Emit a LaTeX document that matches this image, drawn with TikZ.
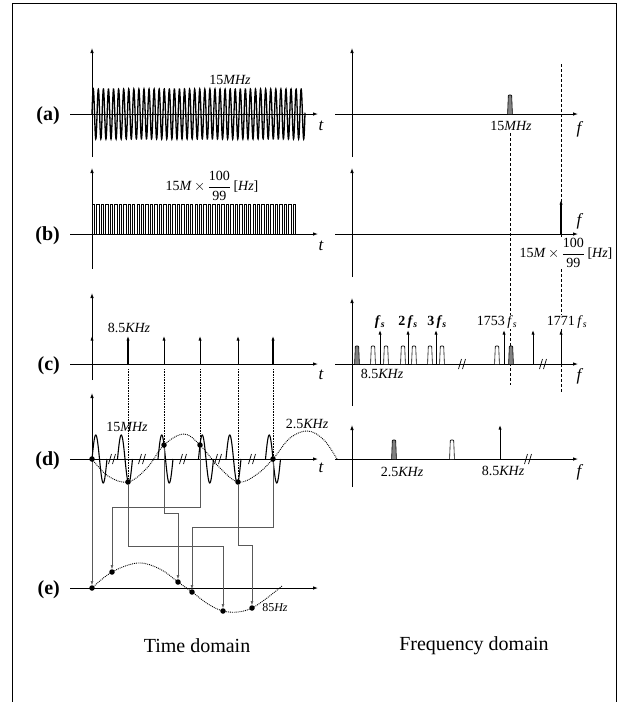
\documentclass[tikz,border=0pt]{standalone}
\usepackage{amsmath}
\usepackage{fontspec}
\setmainfont{Liberation Serif}
\usetikzlibrary{arrows.meta}
\newcommand\myratio{15\textit{M}\,$\times$\,$\dfrac{\text{100}}{\text{99}}$\,[\textit{Hz}]}
\newcommand\myfs{\textit{f}\textsubscript{\textit{s}}}
\newcommand\fpulse[4]{\draw[line width=0.6pt,fill=#4,rounded corners=0.8pt] (#1-2.4,#2) -- (#1-1.7,#2-#3) -- (#1+1.7,#2-#3) -- (#1+2.4,#2);}
\newcommand\mybrk[2]{\draw[line width=0.7pt] (#1-3.5,#2+5) -- (#1-0.5,#2-5) (#1+0.5,#2+5) -- (#1+3.5,#2-5);}
\begin{document}
\begin{tikzpicture}[x=1pt,y=-1pt,
  ax/.style={line width=0.9pt,-{Latex[length=5pt,width=3.6pt]}},
  imp/.style={line width=0.9pt,-{Latex[length=4.5pt,width=3.2pt]}},
  conn/.style={line width=0.6pt,draw=black!65,-{Latex[length=4pt,width=3pt]}},
  vline/.style={line width=0.6pt,densely dotted},
  dline/.style={line width=0.9pt,dash pattern=on 3pt off 2pt},
  env/.style={line width=0.9pt,densely dotted},
  wave/.style={line width=1.1pt},
  pnl/.style={font=\bfseries\fontsize{20}{22}\selectfont,inner sep=1pt},
  var/.style={font=\itshape\fontsize{17}{19}\selectfont,inner sep=1pt},
  unit/.style={font=\fontsize{14}{16}\selectfont,inner sep=1pt},
  fsl/.style={font=\fontsize{14}{16}\selectfont,inner sep=0.5pt},
  dom/.style={font=\fontsize{20}{22}\selectfont},
  sdot/.style={circle,fill=black,inner sep=0pt,minimum size=5.5pt},
]
\useasboundingbox (0,0) rectangle (626,702);
% frame
\draw[line width=0.8pt] (12.5,702) -- (12.5,3.5) -- (616.5,3.5) -- (616.5,702);

% dashed guide lines
\draw[dline] (510,133) -- (510,385);
\draw[dline] (561,64) -- (561,392);

% ---------------- (a)
\draw[ax] (70,114) -- (318,114);
\draw[ax] (92,157) -- (92,48);
\draw[line width=1.3pt] plot[domain=0:213,samples=1300] ({92+\x},{114-25*sin(\x*71)});
\node[pnl,anchor=east] (la) at (61,116) {(a)};
\node[var] (ta) at (321,126) {t};
\node[unit] (ua) at (230,80) {15\textit{MHz}};
\draw[ax] (335,114) -- (578,114);
\draw[ax] (352,157) -- (352,48);
\fpulse{510}{114}{19}{black!50}
\node[unit] (ua2) at (511,126) {15\textit{MHz}};
\node[var] (fa) at (579,129) {f};

% ---------------- (b)
\draw[ax] (70,234) -- (318,234);
\draw[ax] (92,269) -- (92,168);
\foreach \i in {0,...,45} \draw[line width=0.9pt] ({92.4+\i*4.46},234) rectangle ++(2.4,-30);
\node[pnl,anchor=east] (lb) at (61,236) {(b)};
\node[var] (tb) at (321,246) {t};
\node[unit] (ub) at (212,186) {\myratio};
\draw[ax] (335,234) -- (578,234);
\draw[ax] (352,277) -- (352,168);
\draw[imp,line width=1.3pt] (561,234) -- (561,200);
\node[var] (fb) at (579,221) {f};
\node[unit,fill=white] (ub2) at (566,253) {\myratio};

% ---------------- (c)
\draw[ax] (70,364) -- (318,364);
\draw[ax] (92,380) -- (92,293);
\coordinate (c0) at (92,364);
\coordinate (c1) at (128,364);
\coordinate (c2) at (164,364);
\coordinate (c3) at (200,364);
\coordinate (c4) at (238,364);
\coordinate (c5) at (273,364);
\draw[imp] (c0) -- ++(0,-28);
\draw[imp,line width=1.3pt] (c1) -- ++(0,-28);
\draw[imp] (c2) -- ++(0,-28);
\draw[imp] (c3) -- ++(0,-28);
\draw[imp] (c4) -- ++(0,-28);
\draw[imp,line width=1.3pt] (c5) -- ++(0,-28);
\node[unit] (uc) at (129,328) {8.5\textit{KHz}};
\node[pnl,anchor=east] (lc) at (61,366) {(c)};
\node[var] (tc) at (321,375) {t};
% right
\draw[ax] (335,364) -- (578,364);
\draw[ax] (352,406) -- (352,298);
\fpulse{357}{364}{18}{black!50}
\foreach \px in {373,386,403,414,430,442,497} {\fpulse{\px}{364}{18}{white}}
\fpulse{511}{364}{18}{black!50}
\foreach \px in {380,408,436,504,533,561} {\draw[imp] (\px,364) -- (\px,330);}
\mybrk{462}{364}
\mybrk{543}{364}
\node[fsl] (s1) at (380,322) {\textbf{\myfs}};
\node[fsl] (s2) at (408,322) {\textbf{2\,\myfs}};
\node[fsl] (s3) at (437,322) {\textbf{3\,\myfs}};
\node[fsl,fill=white] (s4) at (497,322) {1753\,\myfs};
\node[fsl,fill=white] (s5) at (567,322) {1771\,\myfs};
\node[unit] (uc2) at (382,374) {8.5\textit{KHz}};
\node[var] (fc) at (579,376) {f};

% ---------------- (d)
\draw[ax] (70,459) -- (318,459);
\draw[ax] (92,500) -- (92,393);
\foreach \s in {92,117.5,158,198.5,226,265.5}
  \draw[wave] plot[domain=0:15,samples=40] ({\s+\x},{459-24*sin(24*\x)});
\foreach \bx in {112,142,183,218,252} {\mybrk{\bx}{459}}
\draw[env] plot[smooth,tension=0.6] coordinates {(92,459) (108,476) (128,482) (147,468) (164,445) (184,434) (200,445) (219,467) (238,482) (256,475) (273,459) (290,438) (308,431) (324,440) (337,459)};
\node[sdot] (dd1) at (92,459) {};
\node[sdot] (dd2) at (128,482) {};
\node[sdot] (dd3) at (164,445) {};
\node[sdot] (dd4) at (200,445) {};
\node[sdot] (dd5) at (238,482) {};
\node[sdot] (dd6) at (273,459) {};
\foreach \c/\d in {c1/dd2,c2/dd3,c3/dd4,c4/dd5,c5/dd6} {\draw[vline] ([yshift=-5pt]\c) -- (\d);}
\node[unit] (ud) at (127,427) {15\textit{MHz}};
\node[unit] (ud2) at (307,424) {2.5\textit{KHz}};
\node[pnl,anchor=east] (ld) at (61,461) {(d)};
\node[var] (td) at (321,468) {t};
% right
\draw[ax] (335,459) -- (578,459);
\draw[ax] (352,487) -- (352,425);
\fpulse{394}{459}{19}{black!50}
\fpulse{452}{459}{19}{white}
\draw[imp] (500,459) -- (500,425);
\mybrk{528}{459}
\node[unit] (ud3) at (402,472) {2.5\textit{KHz}};
\node[unit] (ud4) at (503,471) {8.5\textit{KHz}};
\node[var] (fd) at (579,472) {f};

% ---------------- (e)
\draw[ax] (70,588) -- (318,588);
\draw[env] plot[smooth,tension=0.6] coordinates {(92,588) (112,572) (138,563) (160,569) (178,582) (192,592) (208,604) (223,611) (238,612) (252,608) (267,598) (282,586)};
\node[sdot] (ee1) at (92,588) {};
\node[sdot] (ee2) at (112,572) {};
\node[sdot] (ee3) at (178,582) {};
\node[sdot] (ee4) at (192,592) {};
\node[sdot] (ee5) at (223,611) {};
\node[sdot] (ee6) at (252,608) {};
\node[pnl,anchor=east] (le) at (61,590) {(e)};
\node[font=\fontsize{12}{14}\selectfont,inner sep=1pt] (ue) at (275,608) {85\textit{Hz}};

% connectors d -> e
\draw[conn] (dd1) -- (ee1);
\draw[conn] (dd2) -- (dd2 |- 0,546) -| (ee5);
\draw[conn] (dd3) -- (dd3 |- 0,513) -| (ee3);
\draw[conn] (dd4) -- (dd4 |- 0,507) -| (ee2);
\draw[conn] (dd5) -- (dd5 |- 0,545) -| (ee6);
\draw[conn] (dd6) -- (dd6 |- 0,527) -| (ee4);

% domain titles
\node[dom] (tdom) at (197,646) {Time domain};
\node[dom] (fdom) at (474,646) {Frequency domain};
\end{tikzpicture}
\end{document}
